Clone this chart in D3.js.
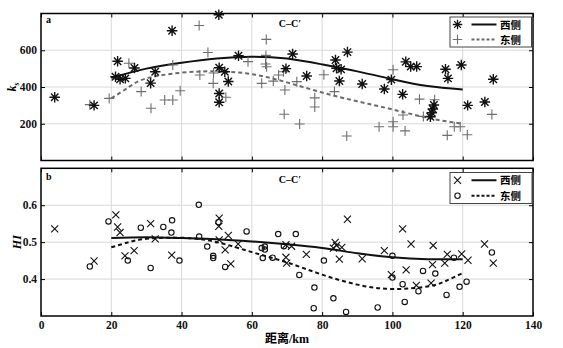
<!DOCTYPE html>
<html><head><meta charset="utf-8">
<script src="https://cdn.jsdelivr.net/npm/d3@7"></script>
<style>
body{margin:0;background:#fff;}
text{font-family:"Liberation Serif","Noto Sans CJK SC",serif;font-weight:bold;}
</style></head>
<body><svg id="c" width="563" height="348"></svg>
<script>
// ---- data: panel a (ks) ----
const westKs = [[3.9,344],[15.1,300],[21.8,540],[21.2,456],[22.5,442],[24.0,447],[26.6,503],[32.5,483],[31.2,421],[37.3,706],[50.6,793],[56.2,570],[50.7,505],[52.3,483],[53.3,430],[50.7,365],[50.7,317],[71.6,580],[69.7,500],[75.6,460],[83.8,547],[84.1,502],[85.4,496],[87.2,590],[84.9,433],[91.4,416],[97.7,389],[99.7,440],[103.8,537],[105.2,511],[106.9,511],[102.9,360],[111.8,302],[111.5,280],[111.2,260],[110.8,238],[115.1,497],[115.8,447],[119.6,520],[121.4,300],[126.3,318],[128.7,442]];
const eastKs = [[13.9,304],[19.4,338],[25.0,529],[28.5,375],[31.3,284],[35.2,329],[37.5,329],[37.5,520],[39.6,380],[45.0,735],[47.5,588],[45.2,465],[49.1,476],[49.0,420],[52.6,344],[58.9,538],[64.1,659],[64.0,572],[63.9,525],[64.2,510],[62.8,420],[66.1,432],[67.6,465],[69.0,483],[69.4,384],[72.8,429],[69.2,252],[73.6,199],[77.9,341],[77.9,291],[80.5,467],[83.5,375],[87.0,133],[96.2,184],[100.2,494],[100.2,211],[100.2,184],[103.6,161],[103.0,248],[107.7,334],[108.8,240],[112.0,331],[115.6,137],[117.6,184],[119.3,184],[121.3,140],[128.3,251]];
const westKsFit = [[20,450],[30,500],[40,532],[50,555],[60,565],[70,555],[80,523],[90,485],[100,442],[110,405],[120,387]];
const eastKsFit = [[20,338],[25,400],[30,447],[40,478],[50,485],[60,470],[70,425],[80,370],[90,322],[100,278],[110,232],[120,200]];
// ---- data: panel b (HI) ----
const westHI = [[3.9,0.536],[15.1,0.449],[21.3,0.574],[21.8,0.541],[22.5,0.526],[23.9,0.463],[26.5,0.477],[31.2,0.550],[32.5,0.509],[37.2,0.465],[50.7,0.565],[50.6,0.543],[50.7,0.506],[53.3,0.518],[52.4,0.479],[54.0,0.441],[56.1,0.495],[69.7,0.493],[71.3,0.489],[69.7,0.459],[69.9,0.443],[75.5,0.467],[83.7,0.499],[84.1,0.491],[83.2,0.484],[85.6,0.486],[84.9,0.454],[87.2,0.562],[91.4,0.455],[97.7,0.477],[99.7,0.412],[102.9,0.536],[105.3,0.495],[103.9,0.425],[106.8,0.383],[111.6,0.491],[111.4,0.439],[111.0,0.389],[115.6,0.467],[114.9,0.443],[119.7,0.468],[121.5,0.451],[126.2,0.495],[128.7,0.443]];
const eastHI = [[13.9,0.434],[19.2,0.556],[24.7,0.450],[28.4,0.539],[31.2,0.430],[34.8,0.541],[37.3,0.559],[37.1,0.526],[39.4,0.450],[44.9,0.601],[45.0,0.515],[47.3,0.488],[49.0,0.463],[49.0,0.457],[50.5,0.554],[52.4,0.433],[58.5,0.529],[62.8,0.484],[63.7,0.488],[63.7,0.480],[63.1,0.457],[65.9,0.458],[67.5,0.522],[69.1,0.489],[72.5,0.522],[73.5,0.411],[77.8,0.377],[77.6,0.321],[80.5,0.450],[83.2,0.348],[86.8,0.311],[95.8,0.323],[100.0,0.463],[100.0,0.404],[102.9,0.386],[103.5,0.338],[107.4,0.367],[108.7,0.422],[112.2,0.415],[115.4,0.357],[117.5,0.458],[119.1,0.379],[121.1,0.393],[128.3,0.472]];
const westHIFit = [[20,0.511],[30,0.513],[40,0.511],[50,0.508],[60,0.502],[70,0.494],[80,0.484],[90,0.470],[100,0.459],[110,0.454],[120,0.454]];
const eastHIFit = [[20,0.486],[25,0.500],[30,0.509],[40,0.512],[50,0.500],[60,0.473],[70,0.445],[80,0.412],[90,0.385],[100,0.373],[110,0.380],[115,0.394],[120,0.416]];
// ---- ticks / labels ----
const xTicks = [0,20,40,60,80,100,120,140];
const ksTicks = [200,400,600];
const hiTicks = [0.4,0.5,0.6];
const legendLabels = ["西侧","东侧"];
const sectionLabel = "C–C′";
const xLabel = "距离/km";

const svg = d3.select("#c");
const x = d3.scaleLinear().domain([0,140]).range([41,533]);
const yA = d3.scaleLinear().domain([0,800]).range([160.5,13.5]);
const yB = d3.scaleLinear().domain([0.3,0.7]).range([316,168.3]);

// custom symbols
const symAst = {draw(ctx,size){const r=Math.sqrt(size)/2;const d=r*Math.SQRT1_2;
  ctx.moveTo(-r,0);ctx.lineTo(r,0);ctx.moveTo(0,-r);ctx.lineTo(0,r);
  ctx.moveTo(-d,-d);ctx.lineTo(d,d);ctx.moveTo(-d,d);ctx.lineTo(d,-d);}};
const symPlus = {draw(ctx,size){const r=Math.sqrt(size)/2;
  ctx.moveTo(-r,0);ctx.lineTo(r,0);ctx.moveTo(0,-r);ctx.lineTo(0,r);}};
const symX = {draw(ctx,size){const r=Math.sqrt(size)/2;
  ctx.moveTo(-r,-r);ctx.lineTo(r,r);ctx.moveTo(-r,r);ctx.lineTo(r,-r);}};

function panel(y, yTicks, fmt, top, bottom, showX){
  const g = svg.append("g");
  // grid
  g.append("g").selectAll("line").data(xTicks.slice(1,-1)).join("line")
    .attr("x1",d=>x(d)).attr("x2",d=>x(d)).attr("y1",top).attr("y2",bottom)
    .attr("stroke","#d9d9d9").attr("stroke-width",1);
  g.append("g").selectAll("line").data(yTicks).join("line")
    .attr("x1",x(0)).attr("x2",x(140)).attr("y1",d=>y(d)).attr("y2",d=>y(d))
    .attr("stroke","#d9d9d9").attr("stroke-width",1);
  // axes
  const ax = d3.axisBottom(x).tickValues(xTicks).tickSize(-4).tickPadding(5);
  const ab = g.append("g").attr("transform",`translate(0,${bottom})`).call(ax);
  if(!showX) ab.selectAll("text").remove();
  g.append("g").attr("transform",`translate(0,${top})`)
    .call(d3.axisTop(x).tickValues(xTicks).tickSize(-4)).selectAll("text").remove();
  g.append("g").attr("transform",`translate(${x(0)},0)`)
    .call(d3.axisLeft(y).tickValues(yTicks).tickFormat(fmt).tickSize(-4).tickPadding(4));
  g.append("g").attr("transform",`translate(${x(140)},0)`)
    .call(d3.axisRight(y).tickValues(yTicks).tickSize(-4)).selectAll("text").remove();
  g.selectAll(".domain").remove();
  g.selectAll(".tick line").attr("stroke","#000").attr("stroke-width",1);
  g.selectAll(".tick text").attr("font-size",11.5).attr("fill","#111")
    .style("font-family","'Liberation Serif',serif").style("font-weight","bold");
  g.append("rect").attr("x",x(0)).attr("y",top).attr("width",x(140)-x(0)).attr("height",bottom-top)
    .attr("fill","none").attr("stroke","#000").attr("stroke-width",1.5);
  return g;
}

// ---------- Panel a ----------
const gA = panel(yA, ksTicks, d3.format("d"), yA(800), yA(0), false);
const lineA = d3.line().x(d=>x(d[0])).y(d=>yA(d[1])).curve(d3.curveNatural);
gA.append("path").attr("d",lineA(eastKsFit)).attr("fill","none").attr("stroke","#6a6a6a")
  .attr("stroke-width",2).attr("stroke-dasharray","4,3");
gA.append("path").attr("d",lineA(westKsFit)).attr("fill","none").attr("stroke","#111").attr("stroke-width",2);
gA.append("g").selectAll("path").data(eastKs).join("path")
  .attr("d",d3.symbol().type(symPlus).size(100)())
  .attr("transform",d=>`translate(${x(d[0])},${yA(d[1])})`)
  .attr("fill","none").attr("stroke","#6e6e6e").attr("stroke-width",1.1);
gA.append("g").selectAll("path").data(westKs).join("path")
  .attr("d",d3.symbol().type(symAst).size(110)())
  .attr("transform",d=>`translate(${x(d[0])},${yA(d[1])})`)
  .attr("fill","none").attr("stroke","#111").attr("stroke-width",1.4);

// ---------- Panel b ----------
const gB = panel(yB, hiTicks, d3.format(".1f"), yB(0.7), yB(0.3), true);
const lineB = d3.line().x(d=>x(d[0])).y(d=>yB(d[1])).curve(d3.curveNatural);
gB.append("path").attr("d",lineB(eastHIFit)).attr("fill","none").attr("stroke","#111")
  .attr("stroke-width",2).attr("stroke-dasharray","4,3");
gB.append("path").attr("d",lineB(westHIFit)).attr("fill","none").attr("stroke","#111").attr("stroke-width",2);
gB.append("g").selectAll("circle").data(eastHI).join("circle")
  .attr("cx",d=>x(d[0])).attr("cy",d=>yB(d[1])).attr("r",2.7)
  .attr("fill","none").attr("stroke","#111").attr("stroke-width",1.1);
gB.append("g").selectAll("path").data(westHI).join("path")
  .attr("d",d3.symbol().type(symX).size(50)())
  .attr("transform",d=>`translate(${x(d[0])},${yB(d[1])})`)
  .attr("fill","none").attr("stroke","#111").attr("stroke-width",1.1);

// panel labels
svg.append("text").attr("x",46).attr("y",23).attr("font-size",10).text("a");
svg.append("text").attr("x",46).attr("y",180).attr("font-size",10).text("b");
svg.append("text").attr("x",290).attr("y",27).attr("font-size",10).attr("text-anchor","middle").text(sectionLabel);
svg.append("text").attr("x",290).attr("y",183).attr("font-size",10).attr("text-anchor","middle").text(sectionLabel);

// y labels
const ylA = svg.append("text").attr("transform",`translate(16,${yA(400)}) rotate(-90)`)
  .attr("text-anchor","middle").attr("font-size",12);
ylA.append("tspan").attr("font-style","italic").text("k");
ylA.append("tspan").attr("font-style","italic").attr("font-size",8).attr("dy",3).text("s");
svg.append("text").attr("transform",`translate(21,${yB(0.5)}) rotate(-90)`)
  .attr("text-anchor","middle").attr("font-size",12).attr("font-style","italic").text("HI");

// x label
svg.append("text").attr("x",287).attr("y",343).attr("text-anchor","middle").attr("font-size",12).text(xLabel);

// legends
function legend(bx,by,bw,bh,rows){
  const g = svg.append("g");
  g.append("rect").attr("x",bx).attr("y",by).attr("width",bw).attr("height",bh)
    .attr("fill","#fff").attr("stroke","#444").attr("stroke-width",1);
  rows.forEach((r,i)=>{
    const yy = by + bh*(i*2+1)/4;
    if(r.sym==="circle"){
      g.append("circle").attr("cx",bx+7.5).attr("cy",yy).attr("r",2.7).attr("fill","none").attr("stroke","#111").attr("stroke-width",1.1);
    } else {
      g.append("path").attr("d",d3.symbol().type(r.sym).size(r.size)()).attr("transform",`translate(${bx+7.5},${yy})`)
        .attr("fill","none").attr("stroke",r.mc).attr("stroke-width",r.mw);
    }
    g.append("line").attr("x1",bx+21.5).attr("x2",bx+46.5).attr("y1",yy).attr("y2",yy)
      .attr("stroke",r.lc).attr("stroke-width",2).attr("stroke-dasharray",r.dash||null);
    g.append("text").attr("x",bx+50).attr("y",yy+4).attr("font-size",10.5)
      .style("font-family","'Noto Sans CJK SC',sans-serif").text(r.label);
  });
}
legend(450,17,81.5,30,[
  {sym:symAst,size:90,mc:"#111",mw:1.3,lc:"#111",label:legendLabels[0]},
  {sym:symPlus,size:90,mc:"#6e6e6e",mw:1.1,lc:"#6a6a6a",dash:"3,2",label:legendLabels[1]}]);
legend(450,172.5,82,31,[
  {sym:symX,size:50,mc:"#111",mw:1.1,lc:"#111",label:legendLabels[0]},
  {sym:"circle",lc:"#111",dash:"3,2",label:legendLabels[1]}]);
</script></body></html>
